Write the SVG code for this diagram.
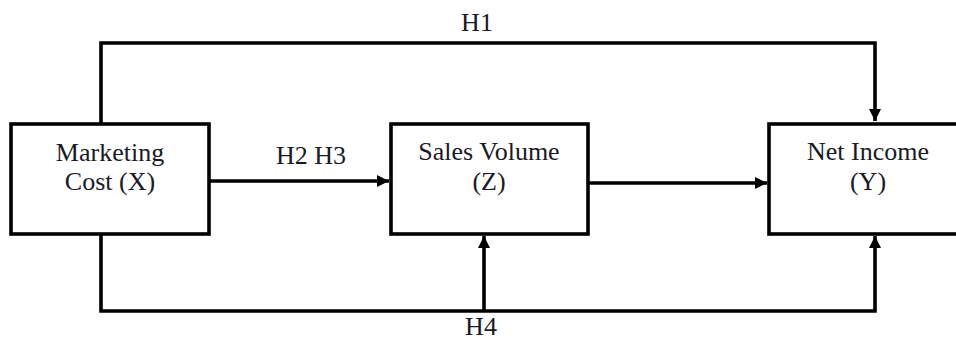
<svg xmlns="http://www.w3.org/2000/svg" width="956" height="342" viewBox="0 0 956 342">
<style>
.box{fill:#fff;stroke:#000;stroke-width:3.6}
.ln{fill:none;stroke:#000;stroke-width:3.6;stroke-linejoin:miter}
.t{font-family:"Liberation Serif","Times New Roman",serif;font-size:26px;fill:#1a1a26;text-anchor:middle}
</style>
<defs>
<marker id="ah" viewBox="0 0 10 10" refX="10" refY="5" markerWidth="13" markerHeight="12" markerUnits="userSpaceOnUse" orient="auto">
<path d="M0,0 L10,5 L0,10 Z" fill="#000"/>
</marker>
</defs>
<rect width="956" height="342" fill="#fff"/>
<g id="connectors">
<path class="ln" d="M101,124 V43 H875 V121" marker-end="url(#ah)"/>
<path class="ln" d="M209,181 H389" marker-end="url(#ah)"/>
<path class="ln" d="M588,183 H767" marker-end="url(#ah)"/>
<path class="ln" d="M101,234 V311 H875 V236" marker-end="url(#ah)"/>
<path class="ln" d="M484,311 V236" marker-end="url(#ah)"/>
</g>
<g id="node-x">
<rect class="box" x="11" y="124" width="198" height="110"/>
<text class="t" x="110" y="161">Marketing</text>
<text class="t" x="110" y="190">Cost (X)</text>
</g>
<g id="node-z">
<rect class="box" x="391" y="124" width="197" height="110"/>
<text class="t" x="489" y="160">Sales Volume</text>
<text class="t" x="489" y="190">(Z)</text>
</g>
<g id="node-y">
<rect class="box" x="769" y="124" width="200" height="110"/>
<text class="t" x="868" y="160">Net Income</text>
<text class="t" x="868" y="190">(Y)</text>
</g>
<g id="labels">
<text class="t" x="477" y="31">H1</text>
<text class="t" x="311" y="164">H2 H3</text>
<text class="t" x="481" y="335">H4</text>
</g>
</svg>
